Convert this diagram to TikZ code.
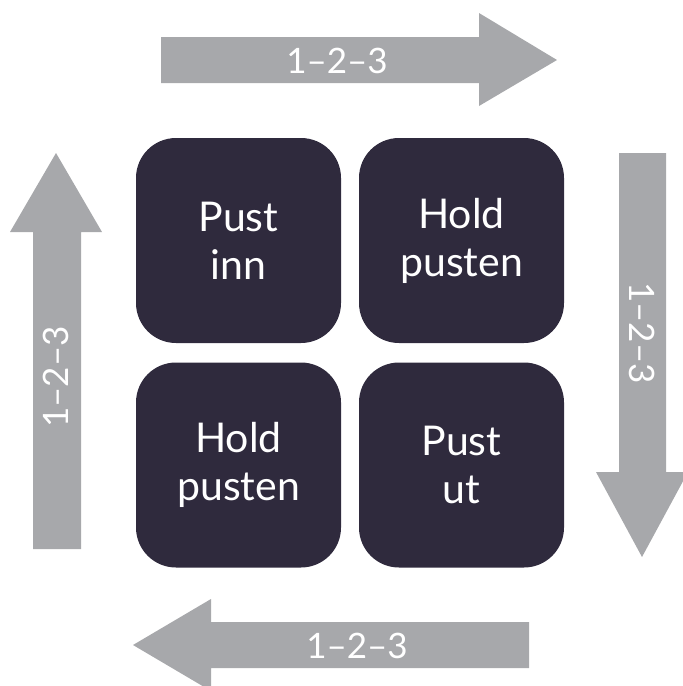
\documentclass[tikz,border=0pt]{standalone}
\usepackage{fontspec}
\setmainfont{Lato}
\definecolor{boxdark}{HTML}{2F2A3D}
\definecolor{arrowgrey}{HTML}{A7A8AB}
\begin{document}
\begin{tikzpicture}[x=1pt,y=-1pt,
  cell/.style={fill=boxdark, rounded corners=40pt, minimum width=205pt, minimum height=205pt,
    text=white, align=center, font=\fontsize{41}{48}\selectfont, inner sep=0pt},
  arrowbody/.style={fill=arrowgrey, draw=none},
  cntlabel/.style={text=white, font=\fontsize{35}{40}\selectfont, inner sep=0pt}]
\useasboundingbox (0,0) rectangle (683,686);
% boxes
\node[cell] (pin)   at (238.5,240.5) {Pust\\inn};
\node[cell] (hold1) at (461.5,240.5) {Hold\\pusten};
\node[cell] (hold2) at (238.5,465)   {Hold\\pusten};
\node[cell] (put)   at (461.5,465)   {Pust\\ut};
% top arrow (right)
\fill[arrowbody] (161,37) -- (479,37) -- (479,13) -- (557,60) -- (479,106) -- (479,83) -- (161,83) -- cycle;
% right arrow (down)
\fill[arrowbody] (619,153) -- (666,153) -- (666,472) -- (688,472) -- (642,557) -- (596,472) -- (619,472) -- cycle;
% bottom arrow (left)
\fill[arrowbody] (529,622) -- (529,668) -- (211,668) -- (211,691) -- (133,645) -- (211,599) -- (211,622) -- cycle;
% left arrow (up)
\fill[arrowbody] (33,549) -- (33,232) -- (10,232) -- (56,153) -- (102,232) -- (81,232) -- (81,549) -- cycle;
% labels
\node[cntlabel] (ltop) at (337,60.5) {1–2–3};
\node[cntlabel, rotate=-90] (lright) at (642,333) {1–2–3};
\node[cntlabel] (lbot) at (357,645.5) {1–2–3};
\node[cntlabel, rotate=90] (lleft) at (56,377) {1–2–3};
\end{tikzpicture}
\end{document}
